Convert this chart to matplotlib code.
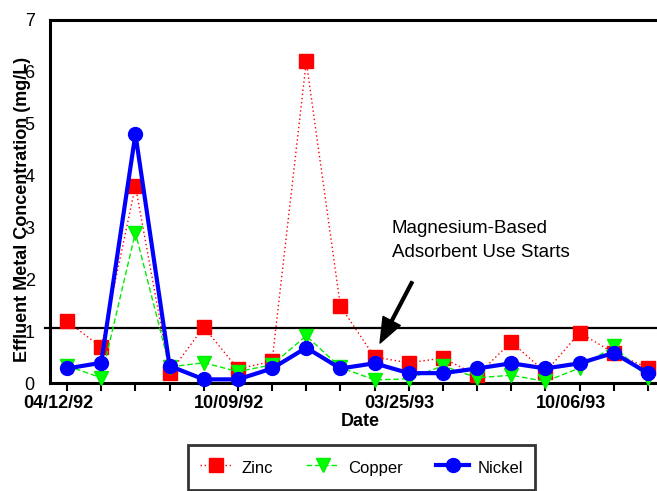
import matplotlib
matplotlib.use("Agg")
import matplotlib.pyplot as plt
import numpy as np

plt.rcParams['font.family'] = ['Liberation Sans', 'DejaVu Sans']

# ---- data ----
sample_index = list(range(18))
zinc   = [1.19, 0.69, 3.80, 0.19, 1.08, 0.27, 0.42, 6.20, 1.48, 0.50,
          0.39, 0.48, 0.15, 0.79, 0.21, 0.97, 0.58, 0.29]
copper = [0.33, 0.10, 2.90, 0.31, 0.39, 0.22, 0.35, 0.91, 0.30, 0.06,
          0.08, 0.33, 0.10, 0.15, 0.03, 0.29, 0.71, 0.10]
nickel = [0.28, 0.39, 4.80, 0.33, 0.07, 0.07, 0.28, 0.68, 0.28, 0.38,
          0.19, 0.19, 0.28, 0.38, 0.28, 0.38, 0.58, 0.19]
date_tick_pos = [0, 5, 10, 15]
date_tick_labels = ['04/12/92', '10/09/92', '03/25/93', '10/06/93']
y_ticks = [0, 1, 2, 3, 4, 5, 6, 7]
limit_level = 1.07
annot_text = "Magnesium-Based\nAdsorbent Use Starts"

W, H = 657, 491
fig = plt.figure(figsize=(W / 100, H / 100), dpi=100)
ax = fig.add_axes([50 / W, 1 - 383 / H, (665 - 50) / W, (383 - 20) / H])

ax.plot(sample_index, zinc, color='#ff0000', lw=1.0, ls=(0, (1, 2)),
        marker='s', ms=9.5, mec='#ff0000', mfc='#ff0000', label='Zinc', clip_on=False, zorder=3)
ax.plot(sample_index, copper, color='#00ee00', lw=1.0, ls=(0, (4, 2)),
        marker='v', ms=10, mec='#00ee00', mfc='#00ff00', label='Copper', clip_on=False, zorder=4)
ax.plot(sample_index, nickel, color='#0000ff', lw=3.0, ls='-',
        marker='o', ms=10, mec='#0000ff', mfc='#0000ff', label='Nickel', clip_on=False, zorder=5)

ax.axhline(limit_level, xmin=-0.008, xmax=1, color='black', lw=1.6, clip_on=False, zorder=2)

ax.set_xlim(-0.5, 17.5)
ax.set_ylim(0, 7)

# major ticks: marks only; minor ticks (slightly left): date labels only
label_shift = 9 / 34.2
ax.set_xticks(sample_index)
ax.set_xticklabels([])
ax.set_xticks([p - label_shift for p in date_tick_pos], minor=True)
ax.set_xticklabels(date_tick_labels, minor=True, fontsize=13, fontweight='bold')
ax.tick_params(axis='x', which='major', direction='out', length=6, width=1.5, pad=3)
ax.tick_params(axis='x', which='minor', length=0, pad=8.5)

ax.set_yticks(y_ticks)
ax.set_yticklabels([str(v) for v in y_ticks], fontsize=13)
ax.tick_params(axis='y', length=0, pad=11)

for side in ['left', 'bottom', 'top']:
    ax.spines[side].set_linewidth(2.2)
ax.spines['right'].set_visible(False)

fig.text(22.5 / W, 1 - 209 / H, 'Effluent Metal Concentration (mg/L)', rotation=90,
         ha='center', va='center', fontsize=13, fontweight='bold')
fig.text(360 / W, 1 - 421 / H, 'Date', ha='center', va='center',
         fontsize=13, fontweight='bold')

ax.text(9.5, 2.75, annot_text, ha='left', va='center', fontsize=13.5, linespacing=1.5)
ax.annotate('', xy=(9.16, 0.77), xytext=(10.10, 1.95),
            arrowprops=dict(facecolor='black', edgecolor='black', width=2.0,
                            headwidth=14, headlength=18, shrink=0))

leg = fig.legend(loc='upper left', bbox_to_anchor=(188 / W, 1 - 445 / H), ncol=3,
                 fontsize=12, frameon=True, fancybox=False, borderpad=0.7,
                 handleheight=1.65, handlelength=2.0, handletextpad=0.5,
                 columnspacing=2.0, borderaxespad=0)
leg.get_frame().set_edgecolor('black')
leg.get_frame().set_linewidth(2.0)

fig.savefig('out.png', dpi=100)
